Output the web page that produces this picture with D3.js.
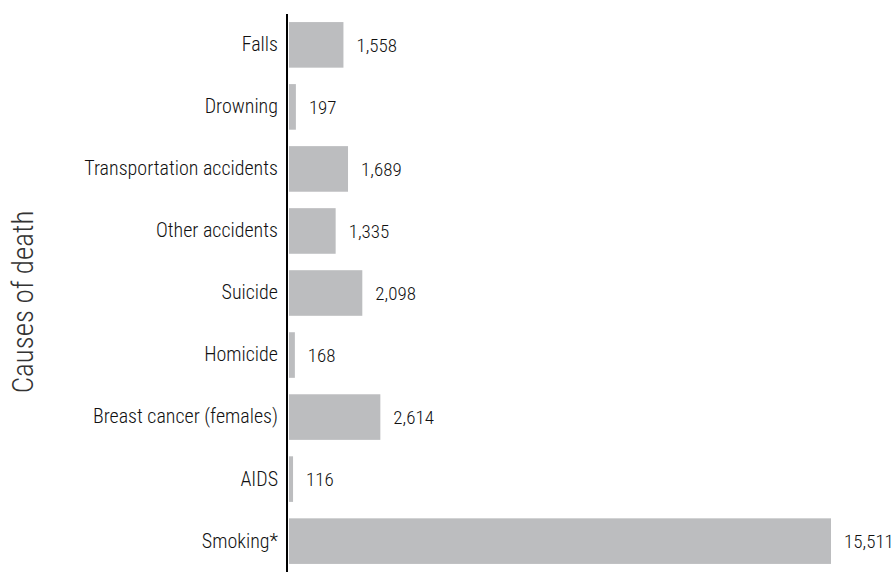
<!DOCTYPE html>
<html lang="en">
<head>
<meta charset="utf-8">
<style>
  body { margin: 0; background: #fff; }
  text { font-family: "Roboto Condensed", "Liberation Sans Narrow", "DejaVu Sans Condensed", sans-serif; fill: #111; font-weight: 300; }
</style>
</head>
<body>
<svg id="chart" width="896" height="574"></svg>
<script src="https://cdn.jsdelivr.net/npm/d3@7"></script>
<script>
var causes = ["Falls", "Drowning", "Transportation accidents", "Other accidents",
    "Suicide", "Homicide", "Breast cancer (females)", "AIDS", "Smoking*"];
var deaths = [1558, 197, 1689, 1335, 2098, 168, 2614, 116, 15511];

var margin = {top: 14, right: 65, bottom: 2, left: 289};
var width = 896 - margin.left - margin.right;
var height = 574 - margin.top - margin.bottom;

var svg = d3.select("#chart");
var g = svg.append("g").attr("transform", "translate(" + margin.left + "," + margin.top + ")");

var x = d3.scaleLinear().domain([0, 15511]).range([0, 542]);
var y = d3.scaleBand().domain(causes).range([0, height]).paddingInner(0.265).paddingOuter(0.13);

var rows = causes.map(function(c, i) { return {cause: c, value: deaths[i]}; });

g.selectAll("rect.bar")
    .data(rows)
    .enter()
    .append("rect")
    .attr("class", "bar")
    .attr("x", 0)
    .attr("y", function(d) { return y(d.cause); })
    .attr("width", function(d) { return x(d.value); })
    .attr("height", y.bandwidth())
    .attr("fill", "#bcbdbf");

g.selectAll("text.val")
    .data(rows)
    .enter()
    .append("text")
    .attr("class", "val")
    .attr("x", function(d) { return x(d.value) + 13; })
    .attr("y", function(d) { return y(d.cause) + y.bandwidth() / 2; })
    .attr("dy", "0.35em")
    .style("font-size", "19px")
    .text(function(d) { return d3.format(",")(d.value); });

var yAxis = d3.axisLeft(y).tickSize(0).tickPadding(9);
var ax = g.append("g").attr("transform", "translate(-2,0)").call(yAxis);
ax.select(".domain").remove();
ax.selectAll("text").style("font-size", "20px").attr("fill", "#111");
ax.attr("font-family", null).attr("font-size", null);

g.append("line")
    .attr("x1", -2).attr("x2", -2)
    .attr("y1", 0).attr("y2", height)
    .attr("stroke", "#000")
    .attr("stroke-width", 2);

svg.append("text")
    .attr("transform", "translate(33,302) rotate(-90)")
    .attr("text-anchor", "middle")
    .style("font-size", "29px")
    .style("fill", "#333")
    .text("Causes of death");
</script>
</body>
</html>
